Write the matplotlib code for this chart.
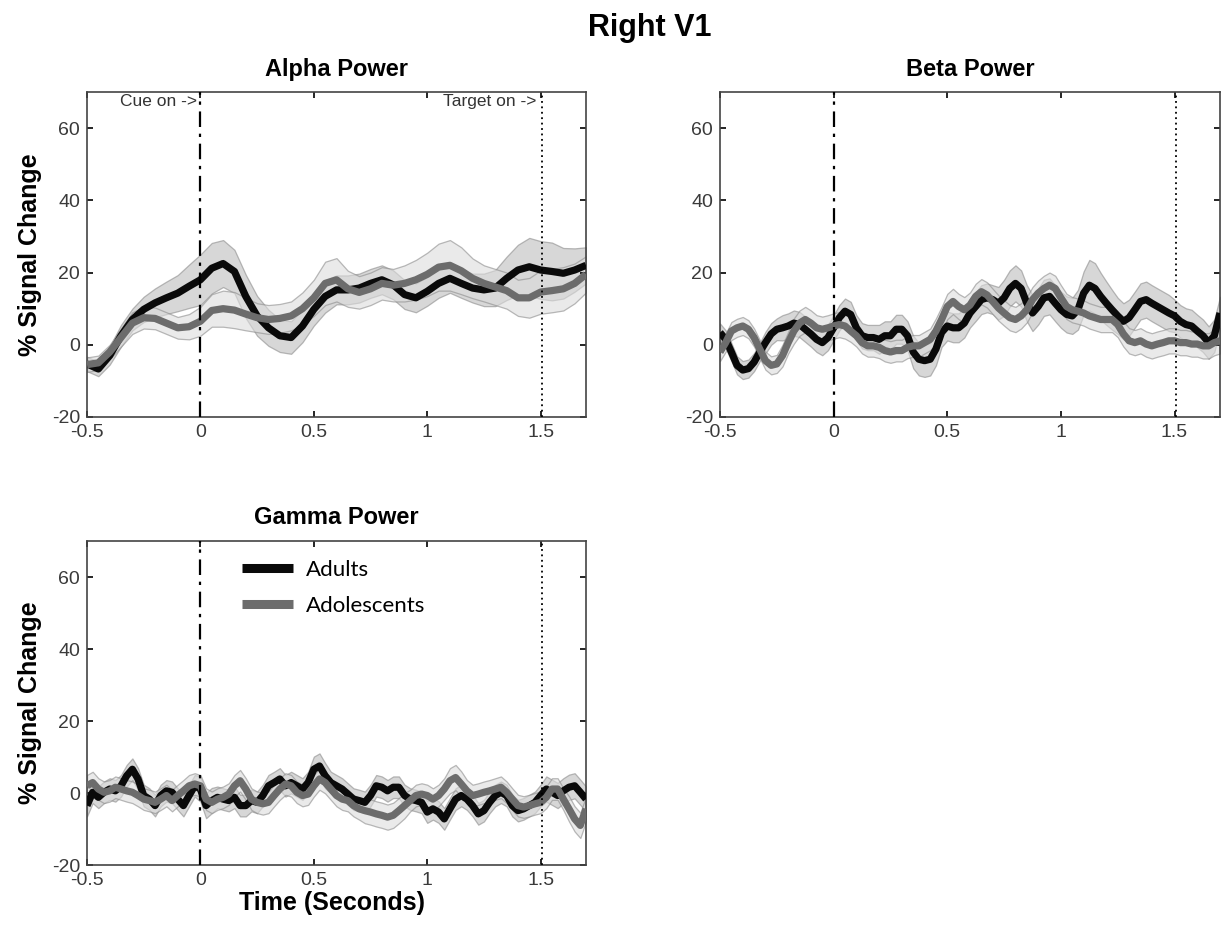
import numpy as np
import matplotlib
matplotlib.use("Agg")
import matplotlib.pyplot as plt
from matplotlib.lines import Line2D

# ---------------- data ----------------
alpha_adults = [-5.3, -6.7, -3, 2.5, 7, 9.8, 11.6, 13, 14.3, 16.2, 18, 21.2, 22.5, 20.3, 13.4,
                8, 4.7, 2.5, 2, 5.2, 9.8, 13.4, 15.2, 15.2, 15.7, 17, 18, 16.6, 13.9, 13,
                14.8, 17, 18.4, 17, 15.7, 15.2, 15.7, 18.4, 20.7, 21.6, 20.7, 20.3, 19.8, 20.7, 22]
alpha_adults_sem = [2, 2, 2.5, 3, 3, 3.5, 4, 4.5, 5, 6, 7, 7, 6.5, 6, 6,
                    5.5, 5, 4.5, 4.5, 4.5, 4.5, 4.5, 4, 4, 4, 4, 4, 4, 4, 4,
                    4, 4, 4, 4, 4, 4.5, 5, 6, 7, 8, 8, 8, 7, 6, 5]
alpha_adol = [-5.5, -5, -2, 2, 6, 7.5, 7.3, 6, 4.7, 5, 6.5, 9.5, 10, 9.6, 8.5,
              7.5, 7, 7.3, 8, 10, 13, 17, 18, 15.5, 14.5, 15.5, 17, 16.5, 17, 18,
              19.5, 21.5, 22, 20.5, 18.4, 17, 16, 15, 13, 13, 14.6, 15, 15.5, 17, 19.5]
alpha_adol_sem = [2, 2, 2, 2.5, 3, 3, 3, 3, 3, 3.5, 4, 4.5, 5, 5, 4.5,
                  4, 4, 4, 4, 4.5, 5, 6, 6, 5, 4.5, 4.5, 4.5, 4.5, 5, 5.5,
                  6, 6.5, 7, 6.5, 5.5, 5, 5, 5, 5, 5.5, 6, 6, 6, 5.5, 5]

beta_adults = [3.4, 1.5, -2, -5.7, -7, -6.6, -4.8, -2,
               0.6, 3, 4.3, 4.7, 5.2, 6, 5.6, 4.3,
               3, 1.5, 0.6, 2, 4.7, 7.5, 9.3, 8.4,
               4.7, 2.5, 2, 2, 1.5, 2.5, 2.5, 4.3,
               4.3, 2.5, -2, -4, -4.4, -4, -1.2, 3.4,
               5.2, 4.7, 4.7, 6, 8.8, 10.6, 12.5, 13,
               12.5, 11.5, 13, 15.6, 17, 15.6, 11.5, 8.8,
               10.6, 13, 13.4, 11.5, 9.7, 8.4, 8, 9.7,
               14.3, 16.5, 15.6, 13.4, 11.5, 9.7, 8, 6.5,
               7.5, 9.7, 12, 12.5, 11.5, 10.6, 9.7, 8.8,
               8, 6.5, 5.6, 5.2, 3.8, 2.5, 0.6, 2.5,
               8.8]
beta_adults_sem = [2.5, 2.5, 2.5, 2.5, 2.5, 2.5, 2.5, 2.5,
                   3, 3, 3, 3.5, 3.5, 3.5, 3.5, 3.5,
                   3.5, 3.5, 3.5, 3.5, 3.5, 3.5, 3.5, 3.5,
                   3.5, 3.5, 3.5, 3.5, 4, 4, 4, 4,
                   4, 4, 4.5, 4.5, 4.5, 4.5, 4.5, 4,
                   4, 4, 4, 4, 4, 4, 4, 4,
                   4, 4.5, 5, 5, 5, 5, 5, 5,
                   5, 5, 5, 5, 5, 5, 5, 5.5,
                   6, 7, 7, 6.5, 6, 5.5, 5, 5,
                   5, 5, 5, 5, 5, 5, 5, 5,
                   4.5, 4.5, 4.5, 4.5, 4.5, 4.5, 4.5, 4.5,
                   4.5]
beta_adol = [-2, 0.6, 3.8, 4.7, 5.2, 4.3, 2, -1.2,
             -4.4, -5.7, -5.3, -3, 0.6, 3.8, 6, 7,
             6, 4.7, 4.3, 4.7, 5.2, 5.6, 5.2, 3.8,
             2.5, 0.6, -0.3, -0.3, -0.7, -1.6, -2, -1.6,
             -1.6, -0.7, -0.3, -0.3, 0.6, 1.5, 3.8, 7,
             10.6, 12, 10.6, 9.7, 11, 13.4, 14.7, 13.8,
             12, 10.2, 8.8, 7.5, 7, 8, 9.7, 12.5,
             14.3, 15.6, 16.5, 15.6, 13, 10.6, 9.7, 9.3,
             8.8, 8, 7.5, 7, 7, 7, 5.6, 3,
             1.1, 0.6, 1.1, 0.2, -0.3, 0.2, 0.6, 1.1,
             1.1, 0.6, 0.6, 0.2, 0.2, -0.3, -0.3, 0.6,
             1.1]
beta_adol_sem = [2.5, 2.5, 2.5, 2.5, 2.5, 2.5, 2.5, 2.5,
                 2.5, 2.5, 2.5, 3, 3, 3.5, 3.5, 3.5,
                 3.5, 3.5, 3.5, 3.5, 3.5, 3.5, 3.5, 3,
                 3, 3, 3, 3, 3, 3, 3, 3,
                 3, 3, 3, 3, 3, 3, 3.5, 3.5,
                 3.5, 3.5, 3.5, 3.5, 3.5, 3.5, 3.5, 3.5,
                 3.5, 3.5, 3.5, 3.5, 3.5, 3.5, 3.5, 3.5,
                 3.5, 3.5, 3.5, 3.5, 3.5, 3.5, 3.5, 3.5,
                 3.5, 3.5, 3.5, 3.5, 3.5, 3.5, 3.5, 3.5,
                 3.5, 3.5, 3.5, 3.5, 3.5, 3.5, 3.5, 3.5,
                 3.5, 3.5, 3.5, 3.5, 3.5, 3.5, 3.5, 3.5,
                 3.5]

gamma_adults = [-3.5, 0.2, -1.2, 0.2, 1.1, 0.6, 2, 4.8,
                6.6, 3.9, -0.7, -1.7, -3.5, -0.7, 0.6, 0.2,
                -1.7, -3.5, -0.7, 2, 1.1, -3.5, -2.1, -1.2,
                -1.7, -2.1, -1.2, -3.5, -3.5, -2.1, -2.6, -0.7,
                2, 2.9, 3.9, 2, 2.9, 2, 1.1, 2.9,
                6.6, 7.5, 4.8, 2.9, 2, 1.1, -0.3, -1.7,
                -2.1, -2.6, -0.7, 2, 1.6, 0.6, 1.6, 1.6,
                -0.7, -1.7, -2.1, -2.6, -5.3, -4.4, -5.3, -7.2,
                -4.4, -1.7, -0.7, -1.7, -3.5, -5.8, -4.9, -2.6,
                -0.7, 0.2, -0.7, -3.5, -4.9, -4.4, -3.5, -2.6,
                -0.7, 1.1, 0.2, -0.7, 0.6, 1.6, 2, 0.2,
                -1.7]
gamma_adults_sem = [3, 3, 3, 3, 3, 3, 3, 3,
                    3, 3, 3, 3, 3, 3, 3, 3,
                    3, 3, 3, 3, 3.5, 3.5, 3.5, 3,
                    3, 3, 3, 3, 3, 3, 3, 3,
                    3, 3, 3, 3, 3, 3, 3, 3,
                    3.5, 3.5, 3.5, 3, 3, 3, 3, 3,
                    3, 3, 3, 3, 3, 3, 3, 3,
                    3, 3, 3, 3, 3, 3, 3, 3,
                    3, 3, 3, 3, 3, 3, 3, 3,
                    3, 3, 3, 3, 3, 3, 3, 3,
                    3, 3.5, 3.5, 3.5, 3.5, 3.5, 3.5, 3.5,
                    3.5]
gamma_adol = [2, 2.9, 1.1, 0.2, 0.6, 1.6, 1.1, 0.6,
              0.2, -0.7, -1.7, -2.1, -2.6, -1.7, -0.7, -2.1,
              -0.7, 0.6, 2, 2.5, 2, -1.7, -2.6, -1.7,
              -1.2, -0.3, 2, 3.4, 1.1, -1.7, -2.6, -3,
              -2.6, -0.7, 1.1, 2.5, 2, 0.2, -0.7, -0.3,
              2, 3.9, 2.9, 1.1, -0.7, -1.7, -2.1, -3.5,
              -4.4, -4.9, -5.3, -5.8, -6.2, -6.7, -6.2, -4.9,
              -3.5, -2.1, -0.7, -0.3, -0.7, -1.7, -0.7, 1.1,
              3.4, 4.3, 2.5, 0.6, -0.7, -0.3, 0.2, 0.6,
              1.1, 1.6, 0.2, -1.7, -3.5, -3.9, -3.5, -3,
              -2.6, -1.2, 1.1, 1.1, -1.7, -4.4, -7.2, -9,
              -4.4]
gamma_adol_sem = [3, 3, 3, 3, 3, 3, 3, 3,
                  3, 3, 3, 3, 3, 3, 3, 3,
                  3, 3, 3, 3, 3, 3, 3, 3,
                  3, 3, 3, 3, 3, 3, 3, 3,
                  3, 3, 3, 3, 3, 3, 3, 3,
                  3, 3, 3, 3, 3, 3, 3, 3,
                  3, 3.5, 3.5, 3.5, 3.5, 3.5, 3.5, 3.5,
                  3.5, 3, 3, 3, 3, 3, 3, 3,
                  3.5, 3.5, 3.5, 3, 3, 3, 3, 3,
                  3, 3, 3, 3, 3, 3, 3, 3,
                  3, 3, 3, 3, 3, 3.5, 3.5, 3.5,
                  3.5]

panel_titles = ["Alpha Power", "Beta Power", "Gamma Power"]
group_labels = ["Adults", "Adolescents"]
xticks = [-0.5, 0, 0.5, 1, 1.5]
xtick_labels = ["-0.5", "0", "0.5", "1", "1.5"]
yticks = [-20, 0, 20, 40, 60]
yticks_labels = ["-20", "0", "20", "40", "60"]
cue_time = 0.0
target_time = 1.508

# ---------------- styling ----------------
W, H = 1222, 930
fig = plt.figure(figsize=(W / 100, H / 100), dpi=100)

tick_font = ['Liberation Sans Narrow', 'Liberation Sans', 'DejaVu Sans']
bold_font = ['Liberation Sans', 'DejaVu Sans']

adult_color = '#0a0a0a'
adol_color = '#6c6c6c'
adult_band = '#bdbdbd'
adol_band = '#dcdcdc'
band_edge = '#8c8c8c'


def px_axes(left, top, right, bottom):
    return [left / W, 1 - bottom / H, (right - left) / W, (bottom - top) / H]


def panel(rect, title, series, title_pad):
    ax = fig.add_axes(rect)
    for mean, sem, color, band in series:
        mean = np.asarray(mean, float)
        sem = np.asarray(sem, float)
        t = np.linspace(-0.5, 1.7, len(mean))
        ax.fill_between(t, mean - sem, mean + sem, facecolor=band, alpha=0.6,
                        edgecolor=band_edge, linewidth=0.9, zorder=1)
    for mean, sem, color, band in series:
        mean = np.asarray(mean, float)
        t = np.linspace(-0.5, 1.7, len(mean))
        ax.plot(t, mean, color=color, lw=5.2, solid_capstyle='butt', zorder=3)
    ax.axvline(cue_time, color='black', lw=1.6, ls=(0, (7, 3, 1.5, 3)), zorder=4)
    ax.axvline(target_time, color='black', lw=1.3, ls=(0, (1, 2)), zorder=4)
    ax.set_xlim(-0.5, 1.7)
    ax.set_ylim(-20, 70)
    ax.set_xticks(xticks)
    ax.set_xticklabels(xtick_labels)
    ax.set_yticks(yticks)
    ax.set_yticklabels(yticks_labels)
    ax.tick_params(direction='in', length=4, width=1.2, top=True, right=True,
                   labelsize=14, labelcolor='#3a3a3a', color='black', pad=5)
    for lab in ax.get_xticklabels() + ax.get_yticklabels():
        lab.set_family(tick_font)
    for s in ax.spines.values():
        s.set_color('#444444')
        s.set_linewidth(1.2)
    ax.set_title(title, fontsize=17, fontweight='bold', family=bold_font, pad=title_pad)
    return ax


ax_a = panel(px_axes(87, 92, 586, 417), panel_titles[0],
             [(alpha_adults, alpha_adults_sem, adult_color, adult_band),
              (alpha_adol, alpha_adol_sem, adol_color, adol_band)], 11.5)
ax_b = panel(px_axes(720, 92, 1220, 417), panel_titles[1],
             [(beta_adults, beta_adults_sem, adult_color, adult_band),
              (beta_adol, beta_adol_sem, adol_color, adol_band)], 11.5)
ax_g = panel(px_axes(87, 541, 586, 865), panel_titles[2],
             [(gamma_adults, gamma_adults_sem, adult_color, adult_band),
              (gamma_adol, gamma_adol_sem, adol_color, adol_band)], 12)

# event annotations
ax_a.text(cue_time - 0.015, 67.3, "Cue on ->", ha='right', va='center', fontsize=12.5,
          color='#333333', family=tick_font)
ax_a.text(target_time - 0.025, 67.3, "Target on ->", ha='right', va='center', fontsize=12.5,
          color='#333333', family=tick_font)

# legend
handles = [Line2D([0], [0], color=adult_color, lw=6.5, solid_capstyle='butt'),
           Line2D([0], [0], color=adol_color, lw=6.5, solid_capstyle='butt')]
ax_g.legend(handles, group_labels, loc='upper left', bbox_to_anchor=(0.27, 1.003),
            frameon=False, handlelength=2.3, handletextpad=0.6, labelspacing=0.72,
            prop={'family': ['Lato', 'DejaVu Sans'], 'size': 16})

# axis labels and figure title
fig.text(30 / W, 1 - 255 / H, "% Signal Change", rotation=90, ha='center', va='center',
         fontsize=18, fontweight='bold', family=bold_font)
fig.text(30 / W, 1 - 703 / H, "% Signal Change", rotation=90, ha='center', va='center',
         fontsize=18, fontweight='bold', family=bold_font)
fig.text(332 / W, 1 - 903 / H, "Time (Seconds)", ha='center', va='center',
         fontsize=18, fontweight='bold', family=bold_font)
fig.text(650 / W, 1 - 28 / H, "Right V1", ha='center', va='center',
         fontsize=22, fontweight='bold', family=bold_font)

fig.savefig("out.png", dpi=100)
